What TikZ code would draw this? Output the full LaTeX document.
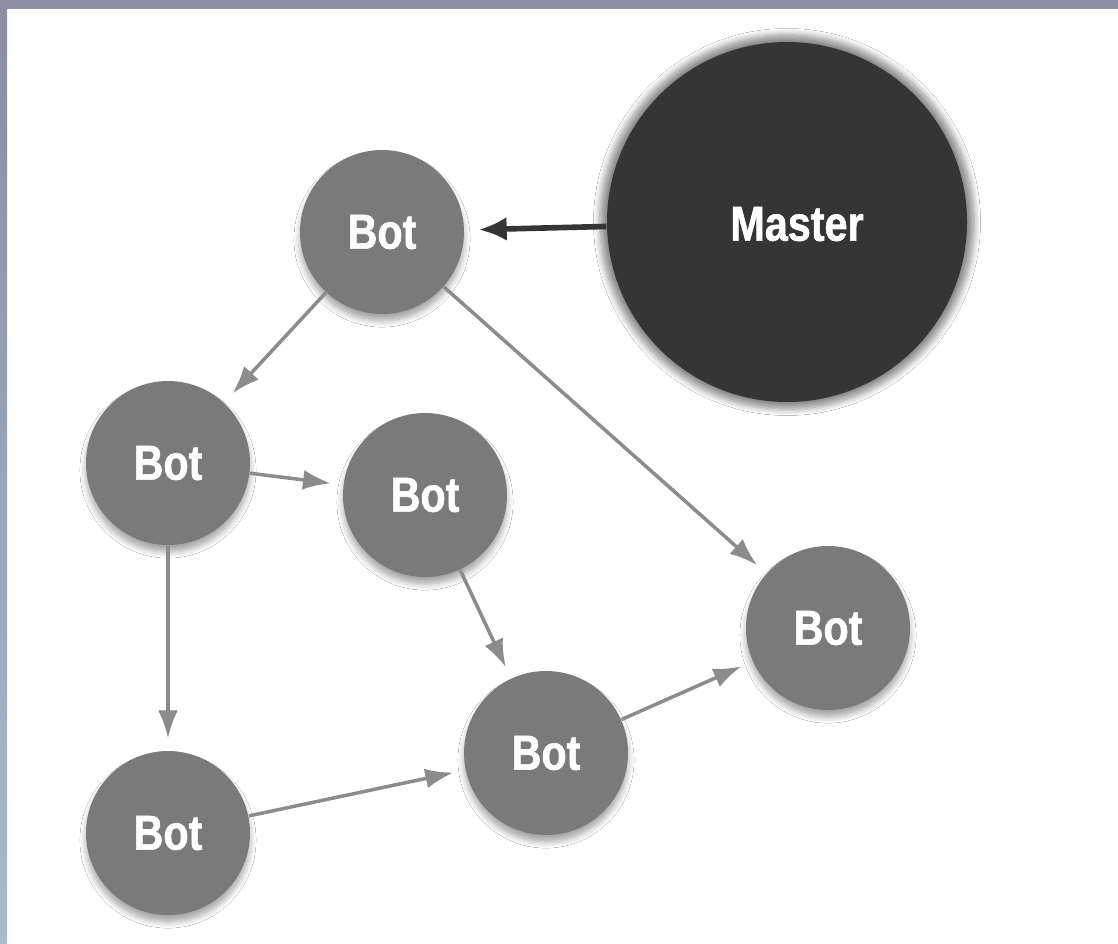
\documentclass[tikz,border=0pt]{standalone}
\usepackage{fontspec}
\usepackage{tikz}
\usetikzlibrary{arrows,arrows.meta,positioning,shadows.blur}
\newfontfamily\botfont[FakeStretch=0.84,FakeBold=1.2]{Liberation Sans}
\definecolor{botgray}{HTML}{7A7A7A}
\definecolor{masterdark}{HTML}{353535}
\definecolor{linkgray}{HTML}{8C8C8C}
\definecolor{framepurple}{HTML}{8C8CA2}
\definecolor{frameblue}{HTML}{A6BCCB}

\begin{document}
\begin{tikzpicture}[
			font=\botfont\bfseries\fontsize{14}{16}\selectfont,
			bot/.style={
				circle,
				fill=botgray,
				text=white,
				minimum size=1.64cm,
				inner sep=0pt,
				blur shadow={shadow xshift=0pt, shadow yshift=-2pt,
					shadow blur steps=6, shadow opacity=35}
			},
			master/.style={
				circle,
				fill=masterdark,
				text=white,
				minimum size=3.6cm,
				inner sep=0pt,
				blur shadow={shadow xshift=0pt, shadow yshift=0pt, shadow scale=1.04,
					shadow blur steps=8, shadow opacity=45}
			},
			link/.style={
				draw=linkgray,
				line width=1pt,
				shorten >=0.12cm,
				-{Latex[length=0.28cm,width=0.2cm]}
			},
			command/.style={
				draw=masterdark,
				line width=1.6pt,
				shorten >=0.14cm,
				-{Latex[length=0.28cm,width=0.24cm]}
			}
			]
			\useasboundingbox (0,0) rectangle (11.18,9.43);
			% the frame round the slide
			\fill [white] (0,0) rectangle (11.18,9.43);
			\fill [framepurple] (0,9.34) rectangle (11.18,9.43);
			\shade [top color=framepurple, bottom color=frameblue] (0,0) rectangle (0.07,9.34);
			
			% We start by placing the circles
			\node [master] (master) at (7.87,7.21) {};
			\node [text=white] (masterlabel) at (7.97,7.19) {Master};
			
			\node [bot] (bot1) at (3.82,7.11) {Bot};
			\node [bot] (bot2) at (1.68,4.80) {Bot};
			\node [bot] (bot3) at (4.25,4.48) {Bot};
			\node [bot] (bot4) at (8.28,3.15) {Bot};
			\node [bot] (bot5) at (5.46,1.90) {Bot};
			\node [bot] (bot6) at (1.68,1.10) {Bot};
			
			% then the links between them
			\draw [command] (master) -- (bot1);
			\draw [link] (bot1) -- (bot2);
			\draw [link] (bot1) -- (bot4);
			\draw [link] (bot2) -- (bot3);
			\draw [link] (bot2) -- (bot6);
			\draw [link] (bot3) -- (bot5);
			\draw [link] (bot6) -- (bot5);
			\draw [link] (bot5) -- (bot4);
			
\end{tikzpicture}
\end{document}
